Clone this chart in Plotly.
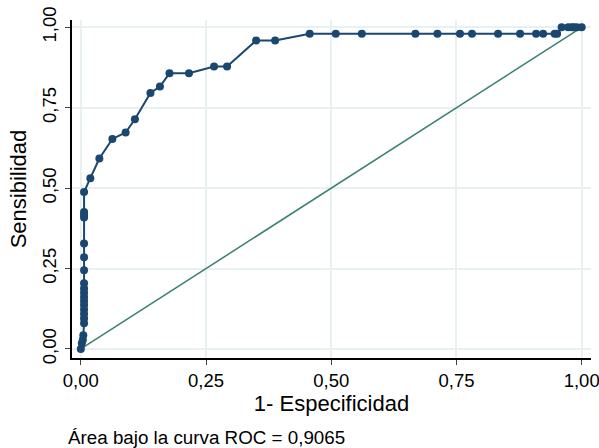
import plotly.graph_objects as go

# 1 - specificity (x) and sensitivity (y)
fpr = [0.000, 0.002, 0.004, 0.005,
       0.0065, 0.0065, 0.0065, 0.0065, 0.0065, 0.0065, 0.0065, 0.0065, 0.0065, 0.0065,
       0.0065, 0.0065, 0.0065, 0.0065, 0.0065, 0.0065, 0.0065,
       0.019, 0.037, 0.063, 0.0895, 0.108, 0.139, 0.158, 0.177, 0.216, 0.266, 0.292, 0.350, 0.388,
       0.457, 0.509, 0.561, 0.668, 0.712, 0.757, 0.781, 0.833, 0.877, 0.909, 0.923, 0.946, 0.951,
       0.960, 0.973, 0.980, 0.984, 0.990, 1.000]
sens = [0.000, 0.018, 0.028, 0.043,
        0.080, 0.095, 0.109, 0.123, 0.137, 0.149, 0.162, 0.175, 0.188, 0.204,
        0.245, 0.285, 0.328, 0.409, 0.418, 0.426, 0.488,
        0.531, 0.592, 0.653, 0.673, 0.714, 0.796, 0.816, 0.857, 0.857, 0.878, 0.878, 0.959, 0.959,
        0.980, 0.980, 0.980, 0.980, 0.980, 0.980, 0.980, 0.980, 0.980, 0.980, 0.980, 0.980, 0.980,
        1.000, 1.000, 1.000, 1.000, 1.000, 1.000]

ref_x = [0, 1]
ref_y = [0, 1]

tick_vals = [0, 0.25, 0.5, 0.75, 1.0]
tick_text = ["0,00", "0,25", "0,50", "0,75", "1,00"]

x_title = "1- Especificidad"
y_title = "Sensibilidad"
note = "Área bajo la curva ROC = 0,9065"

FONT = "Liberation Sans, Arial, sans-serif"
FS = 18.5
navy = "#1a476f"
teal = "#3a7f70"

fig = go.Figure()
fig.add_trace(go.Scatter(x=ref_x, y=ref_y, mode="lines",
                         line=dict(color=teal, width=1.5), showlegend=False, hoverinfo="skip"))
fig.add_trace(go.Scatter(x=fpr, y=sens, mode="lines+markers",
                         line=dict(color=navy, width=2),
                         marker=dict(color=navy, size=8), showlegend=False))

fig.update_layout(
    width=599, height=448,
    margin=dict(l=72, r=8, t=20, b=90),
    paper_bgcolor="white", plot_bgcolor="white",
    font=dict(family=FONT, size=FS, color="black"),
    separators=",.",
    xaxis=dict(range=[-0.0176, 1.0186], tickvals=tick_vals, ticktext=tick_text,
               automargin=False, ticklabeloverflow="allow",
               showline=True, linecolor="black", linewidth=2,
               ticks="outside", ticklen=5, tickwidth=1, tickcolor="#444",
               showgrid=True, gridcolor="#e8f0f2", gridwidth=1.5, zeroline=False,
               title=dict(text=x_title, standoff=4)),
    yaxis=dict(range=[-0.028, 1.0227], tickvals=tick_vals, ticktext=tick_text,
               tickangle=-90, ticklabelstandoff=2, automargin=False, ticklabeloverflow="allow",
               showline=True, linecolor="black", linewidth=2,
               ticks="outside", ticklen=5, tickwidth=1, tickcolor="#444",
               showgrid=True, gridcolor="#e8f0f2", gridwidth=1.5, zeroline=False,
               title=dict(text=y_title, standoff=6)),
    annotations=[dict(text=note, xref="paper", yref="paper",
                      x=-0.012, y=-0.234, xanchor="left", yanchor="middle",
                      showarrow=False, font=dict(family=FONT, size=18.8))],
)

# remove the default page margin so the figure sits at the window's top-left corner
fig.write_html("out.html", config={"displayModeBar": False},
               post_script="document.body.style.margin='0';document.body.style.overflow='hidden';")
